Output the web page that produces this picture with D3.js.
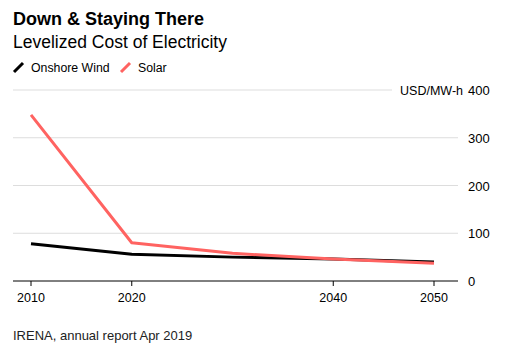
<!DOCTYPE html>
<html lang="en">
<head>
<meta charset="UTF-8">
<title>Down & Staying There</title>
<script src="https://d3js.org/d3.v7.min.js"></script>
<style>
  body, html { margin: 0; padding: 0; background: #fff; }
  svg { display: block; font-family: "Liberation Sans", Arial, sans-serif; }
</style>
</head>
<body>
<svg></svg>
<script>
  const years = [2010, 2020, 2030, 2040, 2050];
  const windValues = [78, 56, 50, 46, 40];
  const solarValues = [348, 80, 58, 46, 37];
  const xTicks = [2010, 2020, 2040, 2050];
  const yTicks = [0, 100, 200, 300, 400];
  const seriesNames = ["Onshore Wind", "Solar"];
  const seriesColors = ["#000000", "#ff6361"];

  const width = 531, height = 354;
  const svg = d3.select("svg").attr("width", width).attr("height", height);

  const x = d3.scaleLinear().domain([2010, 2050]).range([31, 434]);
  const y = d3.scaleLinear().domain([0, 400]).range([281, 90]);
  const left = 13, right = 458;

  // titles
  svg.append("text").attr("x", 13).attr("y", 25)
    .attr("font-size", 18).attr("font-weight", "bold").attr("fill", "#000")
    .text("Down & Staying There");
  svg.append("text").attr("x", 13).attr("y", 48)
    .attr("font-size", 17.5).attr("fill", "#000")
    .text("Levelized Cost of Electricity");

  // legend
  const leg = svg.append("g");
  const legX = [14, 121];
  seriesNames.forEach((name, i) => {
    leg.append("line")
      .attr("x1", legX[i]).attr("y1", 72).attr("x2", legX[i] + 9).attr("y2", 63)
      .attr("stroke", seriesColors[i]).attr("stroke-width", 3);
    leg.append("text").attr("x", legX[i] + 17).attr("y", 72)
      .attr("font-size", 12.3).attr("fill", "#000").text(name);
  });

  // grid
  svg.append("g").selectAll("line")
    .data(yTicks.filter(d => d > 0))
    .join("line")
      .attr("x1", left)
      .attr("x2", d => d === 400 ? 392 : right)
      .attr("y1", d => y(d)).attr("y2", d => y(d))
      .attr("stroke", "#dddddd").attr("stroke-width", 1);

  // y labels
  svg.append("g").selectAll("text")
    .data(yTicks)
    .join("text")
      .attr("x", 468).attr("y", d => y(d) + 5)
      .attr("font-size", 13).attr("fill", "#000")
      .text(d => d);
  svg.append("text").attr("x", 463).attr("y", y(400) + 5)
    .attr("text-anchor", "end").attr("font-size", 12.5).attr("fill", "#000")
    .text("USD/MW-h");

  // x axis
  svg.append("line").attr("x1", left).attr("x2", right)
    .attr("y1", y(0)).attr("y2", y(0))
    .attr("stroke", "#000").attr("stroke-width", 1);
  const xg = svg.append("g").selectAll("g").data(xTicks).join("g")
    .attr("transform", d => `translate(${x(d)},${y(0)})`);
  xg.append("line").attr("y1", 0).attr("y2", 5).attr("stroke", "#000");
  xg.append("text").attr("y", 21).attr("text-anchor", "middle")
    .attr("font-size", 12.5).attr("fill", "#000").text(d => d);

  // lines
  const line = d3.line().x((d, i) => x(years[i])).y(d => y(d));
  [windValues, solarValues].forEach((vals, i) => {
    svg.append("path").datum(vals)
      .attr("d", line)
      .attr("fill", "none")
      .attr("stroke", seriesColors[i])
      .attr("stroke-width", 3)
      .attr("stroke-linejoin", "round");
  });

  // source
  svg.append("text").attr("x", 13).attr("y", 340)
    .attr("font-size", 13).attr("fill", "#222")
    .text("IRENA, annual report Apr 2019");
</script>
</body>
</html>
